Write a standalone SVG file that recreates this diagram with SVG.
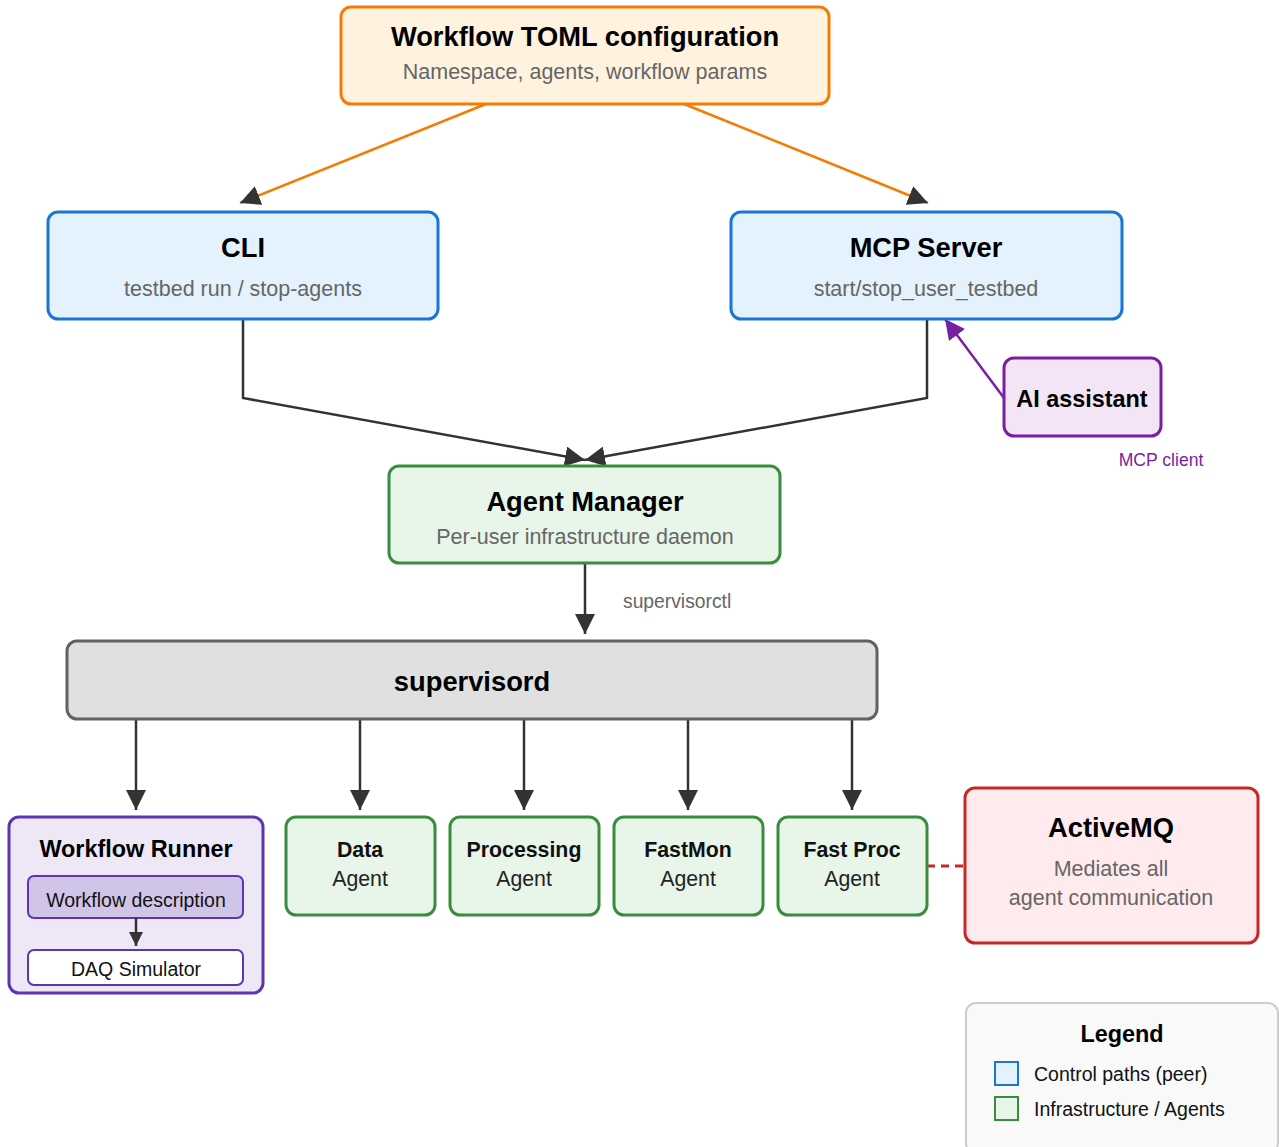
<svg xmlns="http://www.w3.org/2000/svg" width="1279" height="1147" viewBox="0 0 1279 1147">
  <defs>
    <marker id="arrow" viewBox="0 0 20 20" refX="20" refY="10" markerWidth="20" markerHeight="20" markerUnits="userSpaceOnUse" orient="auto">
      <path d="M0,0 L20,10 L0,20 Z" fill="#333333"/>
    </marker>
    <marker id="arrowPurple" viewBox="0 0 20 20" refX="20" refY="10" markerWidth="20" markerHeight="20" markerUnits="userSpaceOnUse" orient="auto">
      <path d="M0,0 L20,10 L0,20 Z" fill="#7B1FA2"/>
    </marker>
    <marker id="arrowSmall" viewBox="0 0 14 14" refX="14" refY="7" markerWidth="14" markerHeight="14" markerUnits="userSpaceOnUse" orient="auto">
      <path d="M0,0 L14,7 L0,14 Z" fill="#333333"/>
    </marker>
  </defs>
  <style>
    text { font-family: "Liberation Sans", Arial, sans-serif; text-anchor: middle; }
    .title { font-size: 27.3px; font-weight: bold; fill: #000000; }
    .title22 { font-size: 23.4px; font-weight: bold; fill: #000000; }
    .sub { font-size: 21.5px; fill: #666666; }
    .agentT { font-size: 21.3px; font-weight: bold; fill: #111111; }
    .agentS { font-size: 21.3px; fill: #222222; }
    .small { font-size: 19.5px; fill: #111111; }
    .config { fill: #FFF3E0; stroke: #F57C00; stroke-width: 3; }
    .control { fill: #E3F2FD; stroke: #1976D2; stroke-width: 3; }
    .infra { fill: #E8F5E9; stroke: #388E3C; stroke-width: 3; }
    .ai { fill: #F3E5F5; stroke: #7B1FA2; stroke-width: 3; }
    .runner { fill: #EDE7F6; stroke: #5E35B1; stroke-width: 3; }
    .broker { fill: #FFEBEE; stroke: #C62828; stroke-width: 3; }
    .sup { fill: #E0E0E0; stroke: #616161; stroke-width: 3; }
    .edge { fill: none; stroke: #333333; stroke-width: 2.5; }
    .edgeOrange { fill: none; stroke: #F57C00; stroke-width: 2.5; }
  </style>

  <rect width="1279" height="1147" fill="#ffffff"/>

  <!-- connectors -->
  <g id="connectors">
    <line class="edgeOrange" x1="486" y1="104" x2="240" y2="203" marker-end="url(#arrow)"/>
    <line class="edgeOrange" x1="684" y1="104" x2="928" y2="203" marker-end="url(#arrow)"/>
    <polyline class="edge" points="243,319 243,398 585,460" marker-end="url(#arrow)"/>
    <polyline class="edge" points="927,319 927,398 585,460" marker-end="url(#arrow)"/>
    <line x1="1004" y1="398" x2="945" y2="319" stroke="#7B1FA2" stroke-width="2.5" marker-end="url(#arrowPurple)"/>
    <line class="edge" x1="585" y1="563" x2="585" y2="634" marker-end="url(#arrow)"/>
    <text x="623" y="608" style="font-size:19.3px; fill:#666666; text-anchor:start">supervisorctl</text>
    <line class="edge" x1="136" y1="719" x2="136" y2="810" marker-end="url(#arrow)"/>
    <line class="edge" x1="360" y1="719" x2="360" y2="810" marker-end="url(#arrow)"/>
    <line class="edge" x1="524" y1="719" x2="524" y2="810" marker-end="url(#arrow)"/>
    <line class="edge" x1="688" y1="719" x2="688" y2="810" marker-end="url(#arrow)"/>
    <line class="edge" x1="852" y1="719" x2="852" y2="810" marker-end="url(#arrow)"/>
    <line x1="927" y1="866" x2="965" y2="866" stroke="#C62828" stroke-width="3" stroke-dasharray="8 6"/>
  </g>

  <!-- nodes -->
  <g id="toml">
    <rect class="config" x="341" y="7" width="488" height="97" rx="10"/>
    <text class="title" x="585" y="46">Workflow TOML configuration</text>
    <text class="sub" x="585" y="79">Namespace, agents, workflow params</text>
  </g>

  <g id="cli">
    <rect class="control" x="48" y="212" width="390" height="107" rx="10"/>
    <text class="title" x="243" y="257">CLI</text>
    <text class="sub" x="243" y="296">testbed run / stop-agents</text>
  </g>

  <g id="mcp-server">
    <rect class="control" x="731" y="212" width="391" height="107" rx="10"/>
    <text class="title" x="926" y="257">MCP Server</text>
    <text class="sub" x="926" y="296">start/stop_user_testbed</text>
  </g>

  <g id="ai-assistant">
    <rect class="ai" x="1004" y="358" width="157" height="78" rx="10"/>
    <text class="title22" x="1082" y="407">AI assistant</text>
    <text x="1161" y="466" style="font-size:17.6px; fill:#7B1FA2">MCP client</text>
  </g>

  <g id="agent-manager">
    <rect class="infra" x="389" y="466" width="391" height="97" rx="10"/>
    <text class="title" x="585" y="511">Agent Manager</text>
    <text class="sub" x="585" y="544">Per-user infrastructure daemon</text>
  </g>

  <g id="supervisord">
    <rect class="sup" x="67" y="641" width="810" height="78" rx="10"/>
    <text class="title" x="472" y="691">supervisord</text>
  </g>

  <g id="workflow-runner">
    <rect class="runner" x="9" y="817" width="254" height="176" rx="10"/>
    <text class="title22" x="136" y="857">Workflow Runner</text>
    <rect x="28" y="876" width="215" height="42" rx="6" fill="#D1C4E9" stroke="#5E35B1" stroke-width="2"/>
    <text class="small" x="136" y="907">Workflow description</text>
    <line class="edge" x1="136" y1="918" x2="136" y2="946" stroke-width="2" marker-end="url(#arrowSmall)"/>
    <rect x="28" y="950" width="215" height="35" rx="6" fill="#ffffff" stroke="#5E35B1" stroke-width="2"/>
    <text class="small" x="136" y="976">DAQ Simulator</text>
  </g>

  <g id="data-agent">
    <rect class="infra" x="286" y="817" width="149" height="98" rx="10"/>
    <text class="agentT" x="360" y="857">Data</text>
    <text class="agentS" x="360" y="886">Agent</text>
  </g>

  <g id="processing-agent">
    <rect class="infra" x="450" y="817" width="149" height="98" rx="10"/>
    <text class="agentT" x="524" y="857">Processing</text>
    <text class="agentS" x="524" y="886">Agent</text>
  </g>

  <g id="fastmon-agent">
    <rect class="infra" x="614" y="817" width="149" height="98" rx="10"/>
    <text class="agentT" x="688" y="857">FastMon</text>
    <text class="agentS" x="688" y="886">Agent</text>
  </g>

  <g id="fastproc-agent">
    <rect class="infra" x="778" y="817" width="149" height="98" rx="10"/>
    <text class="agentT" x="852" y="857">Fast Proc</text>
    <text class="agentS" x="852" y="886">Agent</text>
  </g>

  <g id="activemq">
    <rect class="broker" x="965" y="788" width="293" height="155" rx="10"/>
    <text class="title" x="1111" y="837">ActiveMQ</text>
    <text class="sub" x="1111" y="876">Mediates all</text>
    <text class="sub" x="1111" y="905">agent communication</text>
  </g>

  <g id="legend">
    <rect x="966" y="1003" width="312" height="150" rx="10" fill="#F9F9F9" stroke="#CCCCCC" stroke-width="2"/>
    <text class="title22" x="1122" y="1042">Legend</text>
    <rect x="995" y="1062" width="23" height="23" fill="#E3F2FD" stroke="#1976D2" stroke-width="2"/>
    <text x="1034" y="1081" style="font-size:19.5px; fill:#111111; text-anchor:start">Control paths (peer)</text>
    <rect x="995" y="1097" width="23" height="23" fill="#E8F5E9" stroke="#388E3C" stroke-width="2"/>
    <text x="1034" y="1116" style="font-size:19.5px; fill:#111111; text-anchor:start">Infrastructure / Agents</text>
  </g>
</svg>
